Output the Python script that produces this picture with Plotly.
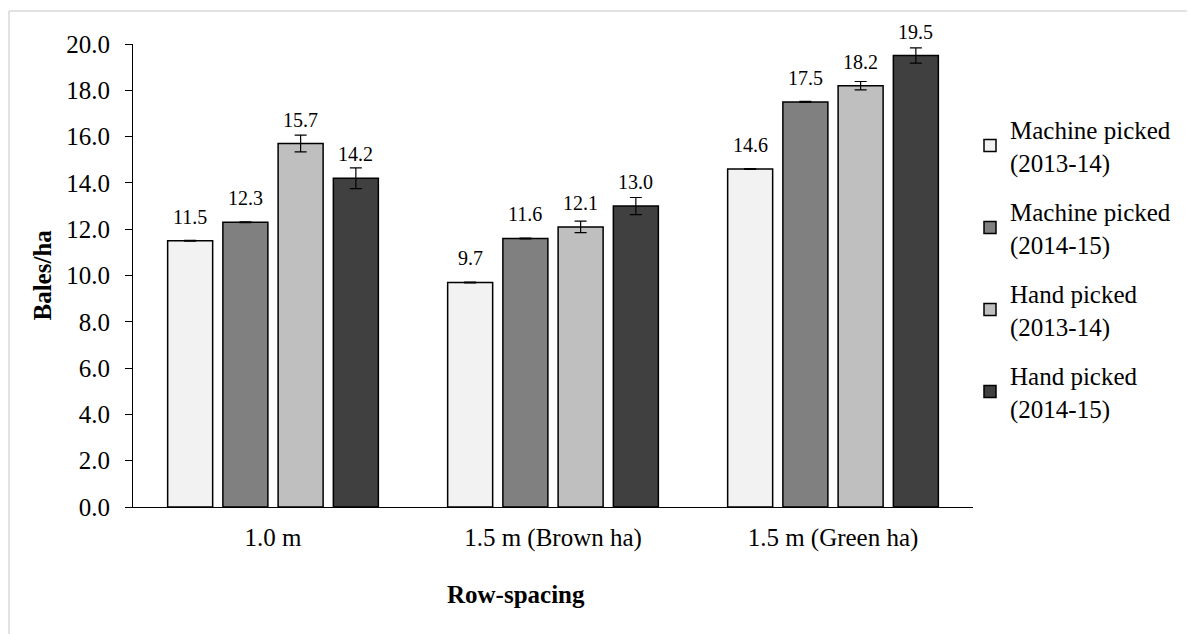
import plotly.graph_objects as go

categories = ["1.0 m", "1.5 m (Brown ha)", "1.5 m (Green ha)"]
series_names = ["Machine picked<br>(2013-14)", "Machine picked<br>(2014-15)",
                "Hand picked<br>(2013-14)", "Hand picked<br>(2014-15)"]
machine_1314 = [11.5, 9.7, 14.6]
machine_1415 = [12.3, 11.6, 17.5]
hand_1314 = [15.7, 12.1, 18.2]
hand_1415 = [14.2, 13.0, 19.5]
err_machine_1314 = [0.02, 0.02, 0.02]
err_machine_1415 = [0.02, 0.02, 0.02]
err_hand_1314 = [0.36, 0.25, 0.18]
err_hand_1415 = [0.45, 0.37, 0.33]
y_ticks = [0, 2, 4, 6, 8, 10, 12, 14, 16, 18, 20]

values = [machine_1314, machine_1415, hand_1314, hand_1415]
errors = [err_machine_1314, err_machine_1415, err_hand_1314, err_hand_1415]
colors = ["#F2F2F2", "#808080", "#BFBFBF", "#404040"]

FONT = "Liberation Serif, Times New Roman, serif"
# page body has an 8px margin, so the figure is 8px smaller than the window
W, H = 1187, 626
ML, MR, MT, MB = 125, 222, 36, 127
BARGAP, BARGROUPGAP = 0.211, 0.185

plot_w = W - ML - MR
plot_h = H - MT - MB


def px_x(px):
    return (px - ML) / plot_w


def px_y(py):
    return (H - MB - py) / plot_h


fig = go.Figure()
for i, (name, vals, errs, col) in enumerate(zip(series_names, values, errors, colors)):
    fig.add_trace(go.Bar(
        x=categories, y=vals, name=name,
        marker=dict(color=col, line=dict(color="black", width=1.5)),
        error_y=dict(type="data", array=errs, visible=True, color="black",
                     thickness=1.2, width=6),
        legendgroup=f"g{i}",
    ))

# data labels above each bar
slot = plot_w / len(categories) * (1 - BARGAP) / len(values)
for i, vals in enumerate(values):
    for c, v in zip(categories, vals):
        fig.add_annotation(x=c, y=v, text=f"{v:.1f}", showarrow=False,
                           xshift=(i - (len(values) - 1) / 2) * slot, yshift=11,
                           yanchor="bottom", font=dict(family=FONT, size=20, color="black"))

# axis titles
fig.add_annotation(x=px_x(34), y=0.5, xref="paper", yref="paper",
                   text="<b>Bales/ha</b>", textangle=-90, showarrow=False,
                   xanchor="center", yanchor="middle",
                   font=dict(family=FONT, size=25, color="black"))
fig.add_annotation(x=px_x(508), y=px_y(586), xref="paper", yref="paper",
                   text="<b>Row-spacing</b>", showarrow=False,
                   xanchor="center", yanchor="middle",
                   font=dict(family=FONT, size=25, color="black"))

# light outer chart border (top and left visible)
fig.add_shape(type="line", xref="paper", yref="paper",
              x0=px_x(1), x1=1.4, y0=px_y(3), y1=px_y(3),
              line=dict(color="#D9D9D9", width=1.5))
fig.add_shape(type="line", xref="paper", yref="paper",
              x0=px_x(1), x1=px_x(1), y0=px_y(3), y1=-0.5,
              line=dict(color="#D9D9D9", width=1.5))

fig.update_layout(
    width=W, height=H,
    margin=dict(l=ML, r=MR, t=MT, b=MB, pad=0),
    paper_bgcolor="white", plot_bgcolor="white",
    barmode="group", bargap=BARGAP, bargroupgap=BARGROUPGAP,
    font=dict(family=FONT, size=25, color="black"),
    showlegend=True,
    legend=dict(x=px_x(962), xanchor="left", y=0.515, yanchor="middle",
                font=dict(family=FONT, size=25, color="black"),
                traceorder="grouped", tracegroupgap=14, bgcolor="rgba(0,0,0,0)"),
    xaxis=dict(showline=True, linecolor="black", linewidth=1.2, ticks="",
               showgrid=False, ticklabelstandoff=8,
               tickfont=dict(family=FONT, size=25, color="black")),
    yaxis=dict(range=[0, 20], tickvals=y_ticks, tickformat=".1f",
               showline=True, linecolor="black", linewidth=1.2,
               ticks="outside", ticklen=7, tickcolor="black", tickwidth=1.2,
               showgrid=False, zeroline=False, ticklabelstandoff=10,
               tickfont=dict(family=FONT, size=25, color="black")),
)

fig.write_html("out.html")
